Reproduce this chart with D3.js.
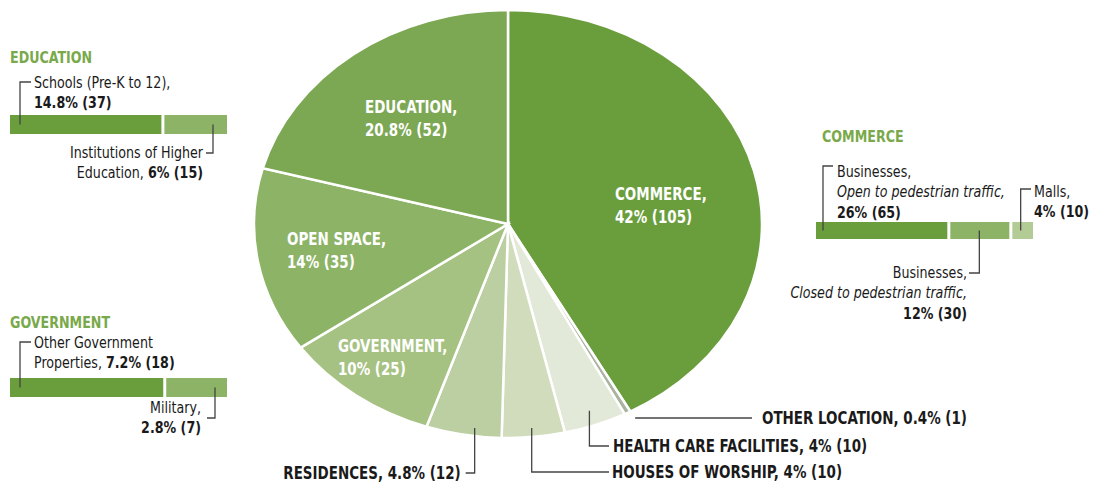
<!DOCTYPE html>
<html>
<head>
<meta charset="utf-8">
<script src="https://cdn.jsdelivr.net/npm/d3@7"></script>
<style>
  body { margin: 0; background: #fff; }
  svg text { font-family: "Liberation Sans Narrow", "DejaVu Sans Condensed", sans-serif; fill: #1a1a1a; }
</style>
</head>
<body>
<div id="chart"></div>
<script>
// --- data ---
const categories = ["COMMERCE", "OTHER LOCATION", "HEALTH CARE FACILITIES", "HOUSES OF WORSHIP",
  "RESIDENCES", "GOVERNMENT", "OPEN SPACE", "EDUCATION"];
const counts = [105, 1, 10, 10, 12, 25, 35, 52];
const percents = ["42%", "0.4%", "4%", "4%", "4.8%", "10%", "14%", "20.8%"];
const sliceColors = ["#6a9e3d", "#a9b3a0", "#e3e9d8", "#d0dcbc", "#bccfa2", "#a6c283", "#8cb366", "#7ca753"];

const eduParts = ["Schools (Pre-K to 12)", "Institutions of Higher Education"];
const eduCounts = [37, 15];
const eduPct = ["14.8%", "6%"];

const govParts = ["Other Government Properties", "Military"];
const govCounts = [18, 7];
const govPct = ["7.2%", "2.8%"];

const comParts = ["Businesses, Open to pedestrian traffic", "Businesses, Closed to pedestrian traffic", "Malls"];
const comCounts = [65, 30, 10];
const comPct = ["26%", "12%", "4%"];

const width = 1093, height = 485;
const squeeze = 0.88; // condensed look for the fallback font

const svg = d3.select("#chart").append("svg")
  .attr("width", width).attr("height", height);

// text placed at x,y and narrowed horizontally
function addText(x, y, anchor) {
  return svg.append("text")
    .attr("transform", `translate(${x},${y}) scale(${squeeze},1)`)
    .attr("text-anchor", anchor || "start");
}

// --- pie (slightly squashed, like the original) ---
const cx = 508, cy = 224, rx = 254, ry = 214;
const pieData = d3.pie().sort(null).value((d) => d.v)(
  counts.map((v, i) => ({ v, i }))
);
const arc = d3.arc().innerRadius(0).outerRadius(rx);

svg.append("g")
  .attr("transform", `translate(${cx},${cy}) scale(1,${ry / rx})`)
  .selectAll("path")
  .data(pieData)
  .join("path")
  .attr("d", arc)
  .attr("fill", (d) => sliceColors[d.data.i])
  .attr("stroke", "#fff")
  .attr("stroke-width", 2.5)
  .attr("vector-effect", "non-scaling-stroke");

// point on the ellipse at a given angle and radius fraction
function pt(angle, f) {
  return [cx + rx * f * Math.sin(angle), cy - ry * f * Math.cos(angle)];
}

// white labels inside the big slices
const inside = [
  { i: 0, x: 615, y: 200 },
  { i: 7, x: 365, y: 113 },
  { i: 6, x: 287, y: 245 },
  { i: 5, x: 338, y: 352 }
];
inside.forEach((l) => {
  const t = addText(l.x, l.y)
    .style("font-size", "17px").style("font-weight", "bold")
    .style("fill", "#fff");
  t.append("tspan").attr("x", 0).text(categories[l.i] + ",");
  t.append("tspan").attr("x", 0).attr("dy", 23)
    .text(`${percents[l.i]} (${counts[l.i]})`);
});

// outside labels for small slices with leader lines
const line = d3.line();
function outsideLabel(i, path, tx, ty, anchor) {
  svg.append("path").attr("d", line(path))
    .attr("fill", "none").attr("stroke", "#444").attr("stroke-width", 1.3);
  addText(tx, ty, anchor)
    .style("font-size", "17px").style("font-weight", "bold")
    .text(`${categories[i]}, ${percents[i]} (${counts[i]})`);
}
{
  const a = (d) => (d.startAngle + d.endAngle) / 2;
  // other location
  let p = pt(a(pieData[1]), 1.03);
  outsideLabel(1, [[p[0] + 4, 418], [752, 418]], 762, 424, "start");
  // health care
  p = pt(a(pieData[2]), 0.93);
  outsideLabel(2, [[p[0], p[1]], [p[0], 446], [609, 446]], 613, 452, "start");
  // houses of worship
  p = pt(a(pieData[3]), 0.93);
  outsideLabel(3, [[p[0], p[1] + 6], [p[0], 472], [609, 472]], 612, 478, "start");
  // residences
  p = pt(a(pieData[4]), 0.93);
  outsideLabel(4, [[p[0] + 8, p[1] + 8], [p[0] + 8, 473], [p[0] - 1, 473]], p[0] - 6, 479, "end");
}

// --- breakdown bars ---
const darkBar = "#6a9e3d", midBar = "#8cb366", lightBar = "#b3cb95";

function breakdown(opts) {
  const total = d3.sum(opts.counts);
  const x = d3.scaleLinear().domain([0, total]).range([opts.x, opts.x + 217]);
  let acc = 0;
  const segs = opts.counts.map((c) => {
    const s = { x0: x(acc), x1: x(acc + c) };
    acc += c;
    return s;
  });
  svg.append("g").selectAll("rect").data(segs).join("rect")
    .attr("x", (d) => d.x0)
    .attr("y", opts.y)
    .attr("width", (d, i) => d.x1 - d.x0 - (i < segs.length - 1 ? 3 : 0))
    .attr("height", opts.h)
    .attr("fill", (d, i) => opts.colors[i]);

  addText(opts.hx, opts.hy)
    .style("font-size", "16px").style("font-weight", "bold")
    .style("fill", "#79a94a").text(opts.title);

  opts.notes.forEach((n) => {
    const s = segs[n.seg];
    const bx = n.where === "left" ? s.x0 + n.off : n.where === "right" ? s.x1 - n.off : (s.x0 + s.x1) / 2 - 2;
    const by = opts.y + opts.h / 2;
    svg.append("path")
      .attr("d", line([[bx, by], [bx, n.ly], [n.lx, n.ly]]))
      .attr("fill", "none").attr("stroke", "#444").attr("stroke-width", 1.3);
    const t = addText(n.tx, n.ty, n.anchor).style("font-size", "16px");
    n.lines.forEach((ln, k) => {
      const row = t.append("tspan").attr("x", 0).attr("dy", k === 0 ? 0 : 20.5);
      ln.forEach((part) => {
        row.append("tspan")
          .style("font-weight", part.b ? "bold" : "normal")
          .style("font-style", part.it ? "italic" : "normal")
          .text(part.t);
      });
    });
  });
}

breakdown({
  title: "EDUCATION", hx: 10, hy: 63,
  x: 10, y: 115, h: 19, counts: eduCounts, colors: [darkBar, midBar],
  notes: [
    { seg: 0, where: "left", off: 10, ly: 82, lx: 31, tx: 34, ty: 88, anchor: "start",
      lines: [[{ t: "Schools (Pre-K to 12)," }], [{ t: `${eduPct[0]} (${eduCounts[0]})`, b: true }]] },
    { seg: 1, where: "right", off: 14, ly: 153, lx: 206, tx: 203, ty: 158, anchor: "end",
      lines: [[{ t: "Institutions of Higher" }], [{ t: "Education, " }, { t: `${eduPct[1]} (${eduCounts[1]})`, b: true }]] }
  ]
});

breakdown({
  title: "GOVERNMENT", hx: 10, hy: 328,
  x: 10, y: 378, h: 19, counts: govCounts, colors: [darkBar, midBar],
  notes: [
    { seg: 0, where: "left", off: 10, ly: 342, lx: 31, tx: 34, ty: 348, anchor: "start",
      lines: [[{ t: "Other Government" }], [{ t: "Properties, " }, { t: `${govPct[0]} (${govCounts[0]})`, b: true }]] },
    { seg: 1, where: "right", off: 12, ly: 418, lx: 207, tx: 201, ty: 413, anchor: "end",
      lines: [[{ t: "Military," }], [{ t: `${govPct[1]} (${govCounts[1]})`, b: true }]] }
  ]
});

breakdown({
  title: "COMMERCE", hx: 822, hy: 142,
  x: 816, y: 222, h: 17, counts: comCounts, colors: [darkBar, midBar, lightBar],
  notes: [
    { seg: 0, where: "left", off: 7, ly: 166, lx: 833, tx: 837, ty: 177, anchor: "start",
      lines: [[{ t: "Businesses," }], [{ t: "Open to pedestrian traffic,", it: true }], [{ t: `${comPct[0]} (${comCounts[0]})`, b: true }]] },
    { seg: 1, where: "mid", off: 0, ly: 273, lx: 969, tx: 967, ty: 278, anchor: "end",
      lines: [[{ t: "Businesses," }], [{ t: "Closed to pedestrian traffic,", it: true }], [{ t: `${comPct[1]} (${comCounts[1]})`, b: true }]] },
    { seg: 2, where: "mid", off: 0, ly: 189, lx: 1031, tx: 1034, ty: 197, anchor: "start",
      lines: [[{ t: "Malls," }], [{ t: `${comPct[2]} (${comCounts[2]})`, b: true }]] }
  ]
});
</script>
</body>
</html>
